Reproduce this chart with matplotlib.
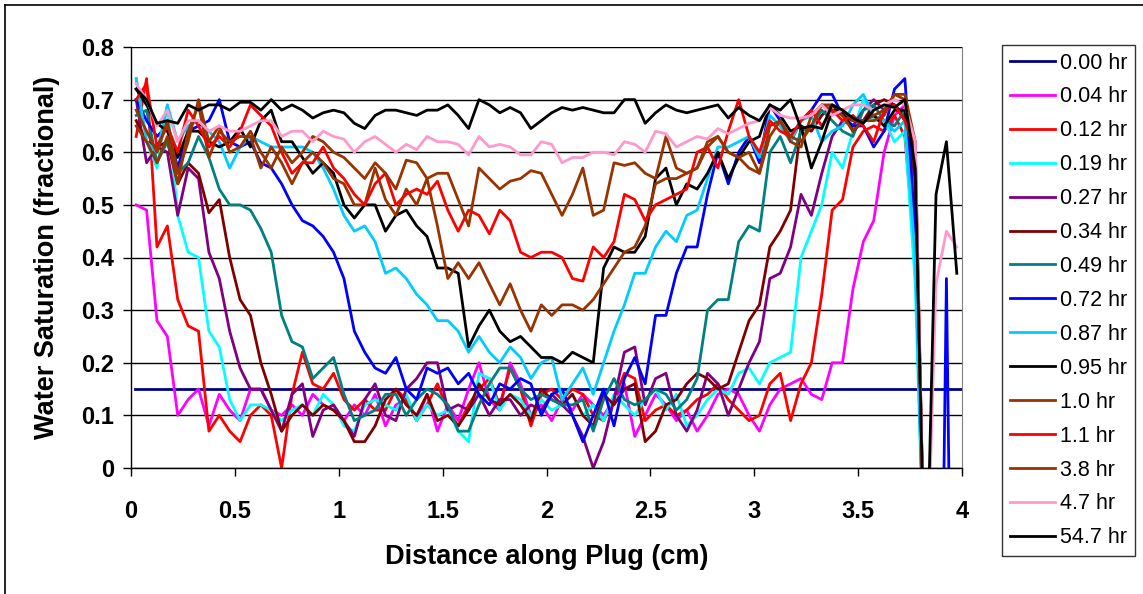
import numpy as np
import matplotlib
matplotlib.use('Agg')
import matplotlib.pyplot as plt
from matplotlib.lines import Line2D
from matplotlib.ticker import FuncFormatter

plt.rcParams['font.family'] = ['Liberation Sans', 'DejaVu Sans']

nan = np.nan
# distance along plug (cm), one reading every 0.05 cm
dist = np.round(np.arange(0.025, 4.0, 0.05), 3)

# initial water saturation, flat line
sw_000_x = [0.02, 4.0]
sw_000 = [0.15, 0.15]

sw_004 = [0.50, 0.49, 0.28, 0.25, 0.10, 0.13, 0.15, 0.08, 0.14, 0.11,
          0.09, 0.15, 0.15, 0.11, 0.10, 0.12, 0.10, 0.14, 0.12, 0.11,
          0.09, 0.12, 0.10, 0.14, 0.08, 0.12, 0.13, 0.09, 0.14, 0.07,
          0.12, 0.09, 0.15, 0.20, 0.13, 0.11, 0.20, 0.16, 0.10, 0.12,
          0.09, 0.13, 0.11, 0.14, 0.12, 0.10, 0.13, 0.16, 0.06, 0.10,
          0.14, 0.12, 0.09, 0.11, 0.07, 0.10, 0.14, 0.15, 0.14, 0.10,
          0.07, 0.12, 0.15, 0.16, 0.17, 0.14, 0.13, 0.20, 0.20, 0.34,
          0.43, 0.47, 0.60, 0.67, 0.69, 0.52, -0.3, nan, nan, nan]

sw_012 = [0.63, 0.74, 0.42, 0.46, 0.32, 0.27, 0.26, 0.07, 0.10, 0.07,
          0.05, 0.10, 0.12, 0.10, 0.00, 0.14, 0.22, 0.16, 0.15, 0.18,
          0.13, 0.11, 0.13, 0.11, 0.11, 0.15, 0.13, 0.09, 0.12, 0.16,
          0.11, 0.08, 0.12, 0.15, 0.17, 0.12, 0.19, 0.15, 0.08, 0.14,
          0.15, 0.13, 0.15, 0.14, 0.10, 0.09, 0.13, 0.18, 0.17, 0.09,
          0.11, 0.12, 0.10, 0.11, 0.13, 0.14, 0.16, 0.13, 0.11, 0.09,
          0.10, 0.16, 0.18, 0.09, 0.16, 0.20, 0.33, 0.49, 0.51, 0.61,
          0.64, 0.65, 0.64, 0.67, 0.63, 0.40, -0.3, nan, nan, nan]

sw_019 = [0.74, 0.62, 0.57, 0.69, 0.48, 0.41, 0.40, 0.26, 0.23, 0.13,
          0.09, 0.12, 0.12, 0.11, 0.09, 0.11, 0.12, 0.10, 0.14, 0.12,
          0.08, 0.07, 0.12, 0.13, 0.12, 0.11, 0.14, 0.09, 0.12, 0.10,
          0.11, 0.07, 0.05, 0.18, 0.17, 0.11, 0.14, 0.13, 0.10, 0.13,
          0.11, 0.12, 0.14, 0.10, 0.12, 0.09, 0.14, 0.12, 0.10, 0.13,
          0.15, 0.11, 0.14, 0.08, 0.10, 0.13, 0.15, 0.14, 0.18, 0.19,
          0.16, 0.20, 0.21, 0.22, 0.40, 0.45, 0.50, 0.60, 0.57, 0.64,
          0.70, 0.66, 0.66, 0.62, 0.64, 0.35, -0.3, nan, nan, nan]

sw_027 = [0.70, 0.58, 0.61, 0.60, 0.48, 0.57, 0.55, 0.41, 0.36, 0.26,
          0.19, 0.15, 0.15, 0.11, 0.07, 0.14, 0.16, 0.06, 0.11, 0.12,
          0.09, 0.06, 0.13, 0.16, 0.10, 0.09, 0.15, 0.17, 0.20, 0.20,
          0.11, 0.12, 0.11, 0.14, 0.10, 0.13, 0.13, 0.10, 0.12, 0.11,
          0.14, 0.12, 0.10, 0.06, 0.00, 0.05, 0.13, 0.22, 0.23, 0.12,
          0.17, 0.18, 0.10, 0.07, 0.11, 0.18, 0.16, 0.10, 0.15, 0.20,
          0.24, 0.36, 0.37, 0.42, 0.52, 0.48, 0.56, 0.63, 0.66, 0.65,
          0.68, 0.70, 0.68, 0.69, 0.66, 0.45, -0.3, nan, nan, nan]

sw_034 = [0.66, 0.62, 0.61, 0.62, 0.54, 0.58, 0.56, 0.485, 0.51, 0.40,
          0.32, 0.29, 0.20, 0.14, 0.07, 0.10, 0.12, 0.10, 0.12, 0.11,
          0.09, 0.05, 0.05, 0.08, 0.13, 0.15, 0.12, 0.10, 0.14, 0.09,
          0.10, 0.08, 0.11, 0.16, 0.13, 0.12, 0.14, 0.12, 0.09, 0.15,
          0.13, 0.12, 0.14, 0.10, 0.08, 0.14, 0.12, 0.15, 0.16, 0.05,
          0.07, 0.12, 0.13, 0.16, 0.18, 0.17, 0.15, 0.16, 0.22, 0.28,
          0.31, 0.42, 0.45, 0.49, 0.65, 0.64, 0.67, 0.69, 0.67, 0.66,
          0.66, 0.69, 0.70, 0.69, 0.67, 0.55, -0.3, nan, nan, nan]

sw_049 = [0.67, 0.68, 0.58, 0.62, 0.56, 0.58, 0.63, 0.59, 0.53, 0.50,
          0.50, 0.49, 0.455, 0.41, 0.29, 0.24, 0.23, 0.17, 0.19, 0.21,
          0.14, 0.09, 0.10, 0.11, 0.14, 0.14, 0.10, 0.13, 0.15, 0.14,
          0.12, 0.07, 0.07, 0.12, 0.16, 0.19, 0.19, 0.15, 0.13, 0.14,
          0.13, 0.12, 0.12, 0.13, 0.07, 0.13, 0.17, 0.13, 0.12, 0.13,
          0.15, 0.14, 0.11, 0.13, 0.17, 0.30, 0.32, 0.32, 0.43, 0.46,
          0.45, 0.60, 0.63, 0.58, 0.64, 0.65, 0.68, 0.66, 0.64, 0.63,
          0.68, 0.69, 0.66, 0.65, 0.68, 0.58, -0.3, nan, nan, nan]

sw_072 = [0.70, 0.66, 0.63, 0.65, 0.57, 0.64, 0.65, 0.66, 0.70, 0.62,
          0.61, 0.62, 0.58, 0.57, 0.54, 0.50, 0.47, 0.46, 0.44, 0.41,
          0.36, 0.26, 0.22, 0.19, 0.18, 0.21, 0.15, 0.13, 0.19, 0.18,
          0.19, 0.16, 0.18, 0.14, 0.12, 0.16, 0.15, 0.17, 0.16, 0.10,
          0.14, 0.15, 0.10, 0.05, 0.10, 0.15, 0.08, 0.17, 0.21, 0.16,
          0.29, 0.29, 0.37, 0.42, 0.42, 0.52, 0.60, 0.54, 0.60, 0.63,
          0.58, 0.69, 0.66, 0.62, 0.66, 0.68, 0.71, 0.71, 0.67, 0.65,
          0.65, 0.61, 0.64, 0.72, 0.74, 0.45, -0.3, -1.2, 0.36, -1.2]

sw_087 = [0.74, 0.62, 0.60, 0.69, 0.62, 0.65, 0.66, 0.64, 0.62, 0.57,
          0.61, 0.63, 0.62, 0.61, 0.61, 0.61, 0.61, 0.60, 0.57, 0.53,
          0.48, 0.45, 0.46, 0.43, 0.37, 0.38, 0.36, 0.33, 0.31, 0.28,
          0.28, 0.26, 0.22, 0.25, 0.22, 0.20, 0.23, 0.21, 0.17, 0.20,
          0.21, 0.13, 0.16, 0.19, 0.14, 0.20, 0.26, 0.31, 0.37, 0.37,
          0.42, 0.45, 0.43, 0.48, 0.49, 0.55, 0.61, 0.61, 0.62, 0.63,
          0.59, 0.67, 0.65, 0.62, 0.66, 0.67, 0.62, 0.64, 0.65, 0.69,
          0.71, 0.67, 0.66, 0.64, 0.66, 0.40, -0.3, nan, nan, nan]

sw_095 = [0.72, 0.69, 0.655, 0.64, 0.59, 0.64, 0.64, 0.62, 0.61, 0.62,
          0.645, 0.61, 0.66, 0.68, 0.62, 0.62, 0.59, 0.56, 0.58, 0.56,
          0.50, 0.475, 0.50, 0.50, 0.45, 0.48, 0.49, 0.46, 0.44, 0.38,
          0.38, 0.37, 0.23, 0.27, 0.30, 0.26, 0.24, 0.25, 0.23, 0.21,
          0.21, 0.20, 0.22, 0.21, 0.20, 0.38, 0.42, 0.41, 0.41, 0.44,
          0.55, 0.57, 0.50, 0.54, 0.53, 0.56, 0.60, 0.55, 0.59, 0.62,
          0.63, 0.69, 0.67, 0.64, 0.65, 0.57, 0.62, 0.68, 0.68, 0.64,
          0.66, 0.67, 0.65, 0.68, 0.68, 0.58, -0.3, nan, nan, nan]

sw_10 = [0.65, 0.62, 0.58, 0.63, 0.54, 0.64, 0.69, 0.59, 0.64, 0.62,
         0.63, 0.63, 0.57, 0.61, 0.58, 0.54, 0.58, 0.60, 0.58, 0.55,
         0.54, 0.50, 0.50, 0.57, 0.51, 0.48, 0.53, 0.50, 0.55, 0.46,
         0.36, 0.39, 0.36, 0.39, 0.35, 0.31, 0.35, 0.30, 0.26, 0.31,
         0.29, 0.31, 0.31, 0.30, 0.32, 0.35, 0.38, 0.41, 0.42, 0.46,
         0.54, 0.55, 0.55, 0.56, 0.57, 0.61, 0.63, 0.60, 0.59, 0.60,
         0.56, 0.65, 0.66, 0.62, 0.61, 0.67, 0.69, 0.68, 0.67, 0.64,
         0.66, 0.66, 0.67, 0.71, 0.70, 0.60, -0.3, nan, nan, nan]

sw_11 = [0.70, 0.73, 0.61, 0.65, 0.60, 0.68, 0.65, 0.61, 0.63, 0.61,
         0.64, 0.69, 0.67, 0.65, 0.60, 0.56, 0.58, 0.58, 0.61, 0.57,
         0.55, 0.52, 0.50, 0.54, 0.56, 0.50, 0.52, 0.53, 0.52, 0.545,
         0.49, 0.45, 0.49, 0.48, 0.445, 0.49, 0.47, 0.41, 0.40, 0.41,
         0.41, 0.40, 0.36, 0.355, 0.42, 0.40, 0.43, 0.52, 0.51, 0.47,
         0.50, 0.51, 0.52, 0.53, 0.60, 0.61, 0.57, 0.64, 0.70, 0.63,
         0.60, 0.66, 0.64, 0.63, 0.66, 0.68, 0.65, 0.68, 0.66, 0.67,
         0.65, 0.62, 0.68, 0.69, 0.66, 0.60, -0.3, nan, nan, nan]

sw_38 = [0.68, 0.64, 0.60, 0.66, 0.56, 0.62, 0.70, 0.62, 0.65, 0.60,
         0.61, 0.64, 0.60, 0.57, 0.61, 0.58, 0.60, 0.63, 0.62, 0.60,
         0.59, 0.57, 0.55, 0.58, 0.56, 0.53, 0.585, 0.58, 0.55, 0.56,
         0.56, 0.51, 0.46, 0.57, 0.55, 0.53, 0.545, 0.55, 0.565, 0.56,
         0.52, 0.48, 0.52, 0.57, 0.48, 0.49, 0.58, 0.575, 0.58, 0.56,
         0.55, 0.63, 0.57, 0.56, 0.57, 0.62, 0.63, 0.60, 0.59, 0.57,
         0.56, 0.63, 0.66, 0.63, 0.62, 0.65, 0.69, 0.69, 0.68, 0.66,
         0.66, 0.67, 0.68, 0.71, 0.71, 0.62, -0.3, nan, nan, nan]

sw_47 = [0.73, 0.70, 0.65, 0.68, 0.62, 0.66, 0.66, 0.64, 0.65, 0.64,
         0.64, 0.65, 0.66, 0.66, 0.63, 0.64, 0.64, 0.62, 0.64, 0.63,
         0.625, 0.60, 0.62, 0.63, 0.615, 0.60, 0.615, 0.605, 0.63, 0.62,
         0.62, 0.615, 0.595, 0.63, 0.61, 0.615, 0.61, 0.595, 0.595, 0.62,
         0.615, 0.58, 0.59, 0.59, 0.60, 0.60, 0.595, 0.62, 0.615, 0.60,
         0.64, 0.635, 0.61, 0.62, 0.63, 0.625, 0.645, 0.635, 0.645, 0.655,
         0.66, 0.685, 0.67, 0.665, 0.665, 0.67, 0.69, 0.67, 0.68, 0.69,
         0.69, 0.68, 0.69, 0.70, 0.69, 0.62, -0.3, 0.35, 0.45, 0.42]

sw_547 = [0.72, 0.70, 0.655, 0.66, 0.655, 0.69, 0.68, 0.69, 0.69, 0.68,
          0.695, 0.695, 0.68, 0.70, 0.68, 0.69, 0.68, 0.665, 0.675, 0.68,
          0.675, 0.655, 0.645, 0.67, 0.68, 0.68, 0.675, 0.67, 0.68, 0.68,
          0.69, 0.67, 0.645, 0.70, 0.69, 0.675, 0.685, 0.675, 0.645, 0.66,
          0.675, 0.685, 0.68, 0.685, 0.68, 0.675, 0.675, 0.70, 0.70, 0.655,
          0.675, 0.69, 0.68, 0.675, 0.68, 0.685, 0.69, 0.665, 0.685, 0.67,
          0.66, 0.69, 0.68, 0.70, 0.645, 0.65, 0.645, 0.69, 0.68, 0.665,
          0.655, 0.68, 0.69, 0.685, 0.70, 0.57, -0.3, 0.52, 0.62, 0.37]

labels = ['0.00 hr', '0.04 hr', '0.12 hr', '0.19 hr', '0.27 hr', '0.34 hr',
          '0.49 hr', '0.72 hr', '0.87 hr', '0.95 hr', '1.0 hr', '1.1 hr',
          '3.8 hr', '4.7 hr', '54.7 hr']
series = [sw_004, sw_012, sw_019, sw_027, sw_034, sw_049, sw_072, sw_087,
          sw_095, sw_10, sw_11, sw_38, sw_47, sw_547]
colors = ['#000080', '#FF00FF', '#FF0000', '#00FFFF', '#800080', '#800000',
          '#008080', '#0000FF', '#00CCFF', '#000000', '#993300', '#FF0000',
          '#993300', '#FF99CC', '#000000']

W, H = 1143, 594
fig = plt.figure(figsize=(W / 100, H / 100), dpi=100)
ax = fig.add_axes([131 / W, 1 - 468 / H, (962 - 131) / W, (468 - 47) / H])

lines = []
ln, = ax.plot(sw_000_x, sw_000, color=colors[0], lw=2.0)
lines.append(ln)
for ys, c in zip(series, colors[1:]):
    ln, = ax.plot(dist, ys, color=c, lw=2.0)
    lines.append(ln)

ax.set_xlim(0, 4)
ax.set_ylim(0, 0.8)
ax.set_xticks(np.arange(0, 4.01, 0.5))
ax.set_yticks(np.arange(0, 0.81, 0.1))
fmt = FuncFormatter(lambda v, p: f'{v:g}')
ax.xaxis.set_major_formatter(fmt)
ax.yaxis.set_major_formatter(fmt)
ax.grid(axis='y', color='black', lw=1.0)
ax.set_axisbelow(True)

for lab in ax.get_xticklabels() + ax.get_yticklabels():
    lab.set_fontweight('bold')
ax.tick_params(axis='both', direction='out', length=6, width=1,
               colors='black', labelsize=17)
ax.tick_params(axis='x', pad=17)
ax.tick_params(axis='y', pad=6)

ax.spines['top'].set_visible(False)
ax.spines['right'].set_color('#808080')
for s in ('left', 'bottom'):
    ax.spines[s].set_color('black')
    ax.spines[s].set_linewidth(1.0)

ax.set_xlabel('Distance along Plug (cm)', fontsize=19.5, fontweight='bold')
ax.set_ylabel('Water Saturation (fractional)', fontsize=19.5, fontweight='bold')
ax.xaxis.set_label_coords(0.5, -0.18)
ax.yaxis.set_label_coords(-0.085, 0.5)

leg = fig.legend(lines, labels, loc='upper left',
                 bbox_to_anchor=(1002 / W, 1 - 45 / H), fontsize=15.5,
                 frameon=True, fancybox=False, edgecolor='black',
                 handlelength=2.1, handletextpad=0.25, labelspacing=0.6,
                 borderpad=0.35, borderaxespad=0)
leg.get_frame().set_linewidth(1.0)
for h in leg.legend_handles:
    h.set_linewidth(2.0)

# outer chart border (only top and left edges fall inside the image)
fig.add_artist(Line2D([5 / W, 5 / W], [0, 1 - 5 / H], transform=fig.transFigure,
                      color='black', lw=1.2))
fig.add_artist(Line2D([5 / W, 1], [1 - 5 / H, 1 - 5 / H], transform=fig.transFigure,
                      color='black', lw=1.2))

fig.savefig('out.png', dpi=100)
